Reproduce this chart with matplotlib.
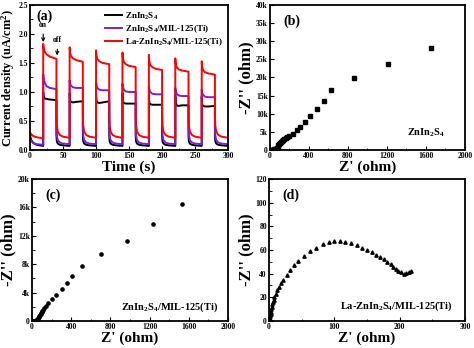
import matplotlib
matplotlib.use("Agg")
import matplotlib.pyplot as plt
import numpy as np

plt.rcParams['font.family'] = ['Liberation Serif', 'DejaVu Serif']
plt.rcParams['font.weight'] = 'bold'
plt.rcParams['mathtext.fontset'] = 'custom'
plt.rcParams['mathtext.rm'] = 'Liberation Serif:bold'
plt.rcParams['mathtext.bf'] = 'Liberation Serif:bold'
plt.rcParams['mathtext.it'] = 'Liberation Serif:bold'

# ---------------- panel (a) data ----------------
on_times = [20, 60, 100, 140, 180, 220, 260]
lead_t = [0, 2, 5, 10, 20]
light_off = [0, 0.6, 2, 5, 10, 20]
dark_off = [20, 20.6, 22, 25, 30, 40]

black_lead = [0.25, 0.17, 0.12, 0.09, 0.07]
black_light = [
    [1.00, 0.92, 0.89, 0.88, 0.87, 0.86],
    [0.98, 0.86, 0.83, 0.82, 0.83, 0.84],
    [0.97, 0.85, 0.82, 0.81, 0.82, 0.84],
    [0.98, 0.84, 0.81, 0.80, 0.80, 0.80],
    [0.95, 0.82, 0.79, 0.78, 0.78, 0.78],
    [0.94, 0.80, 0.77, 0.76, 0.77, 0.77],
    [0.92, 0.79, 0.76, 0.75, 0.75, 0.76],
]
black_dark = [0.25, 0.15, 0.11, 0.09, 0.08, 0.07]

purple_lead = [0.20, 0.15, 0.12, 0.10, 0.09]
purple_light = [
    [1.30, 1.24, 1.17, 1.10, 1.07, 1.05],
    [1.20, 1.15, 1.11, 1.08, 1.07, 1.07],
    [1.17, 1.12, 1.07, 1.04, 1.03, 1.03],
    [1.14, 1.09, 1.04, 1.01, 1.00, 1.00],
    [1.10, 1.05, 1.00, 0.97, 0.96, 0.96],
    [1.07, 1.02, 0.97, 0.94, 0.93, 0.93],
    [1.04, 0.99, 0.95, 0.92, 0.91, 0.91],
]
purple_dark = [0.40, 0.25, 0.17, 0.13, 0.11, 0.10]

red_lead = [0.30, 0.27, 0.24, 0.22, 0.20]
red_light = [
    [1.83, 1.76, 1.70, 1.65, 1.61, 1.57],
    [1.77, 1.68, 1.62, 1.58, 1.55, 1.52],
    [1.72, 1.63, 1.57, 1.53, 1.50, 1.48],
    [1.68, 1.58, 1.52, 1.48, 1.45, 1.43],
    [1.64, 1.53, 1.47, 1.43, 1.40, 1.38],
    [1.58, 1.49, 1.43, 1.39, 1.37, 1.35],
    [1.53, 1.44, 1.38, 1.34, 1.32, 1.30],
]
red_dark = [0.60, 0.42, 0.32, 0.26, 0.23, 0.21]

series_labels = [r'ZnIn$_{2}$S$_{4}$', r'ZnIn$_{2}$S$_{4}$/MIL-125(Ti)',
                 r'La-ZnIn$_{2}$S$_{4}$/MIL-125(Ti)']
series_colors = ['black', '#7a1fd6', '#ff0000']

# ---------------- panel (b) data ----------------
b_x = [5, 15, 25, 35, 45, 55, 62, 70, 78, 86, 94, 102, 110, 120, 132, 145, 160, 178,
       200, 240, 278, 310, 360, 410, 480, 555, 625, 865, 1210, 1650]
b_y = [0, 20, 50, 90, 150, 250, 400, 650, 950, 1250, 1550, 1850, 2150, 2450, 2750, 3000,
       3250, 3550, 3900, 4500, 5400, 6400, 7700, 9400, 11300, 13600, 16500, 19800, 23700, 28000]
b_xticks = [0, 400, 800, 1200, 1600, 2000]
b_yticks = [0, 5000, 10000, 15000, 20000, 25000, 30000, 35000, 40000]
b_yticklabels = ['0', '5k', '10k', '15k', '20k', '25k', '30k', '35k', '40k']

# ---------------- panel (c) data ----------------
c_x = [5, 15, 25, 35, 45, 52, 58, 64, 70, 76, 82, 88, 94, 100, 107, 115, 125, 140,
       165, 205, 250, 305, 360, 410, 510, 705, 965, 1230, 1530]
c_y = [0, 10, 30, 60, 100, 180, 280, 400, 540, 680, 820, 960, 1100, 1250, 1400, 1550,
       1800, 2100, 2500, 3100, 3700, 4500, 5400, 6400, 7700, 9400, 11300, 13600, 16500]
c_xticks = [0, 400, 800, 1200, 1600, 2000]
c_yticks = [0, 4000, 8000, 12000, 16000, 20000]
c_yticklabels = ['0', '4k', '8k', '12k', '16k', '20k']

# ---------------- panel (d) data ----------------
d_x = [1, 1.5, 2, 2.5, 3, 3.5, 4, 5, 6, 7, 8, 10, 12, 15, 18, 22, 27, 32, 38, 45, 53,
       62, 72, 82, 92, 100, 108, 117, 126, 134, 142, 150, 157, 164, 170, 176, 181, 186,
       190, 194, 198, 202, 206, 210, 214, 218]
d_y = [0, 2, 4, 6, 8, 10, 12, 14, 16, 18, 20, 23, 26, 29, 32, 35, 39, 43, 47, 51, 55,
       59, 62, 65, 67, 68, 68, 67, 66, 64, 62, 60, 58, 56, 54, 52, 50, 48, 46, 44, 42,
       41, 40, 40.5, 41.5, 42.5]
d_xticks = [0, 100, 200, 300]
d_yticks = [0, 20, 40, 60, 80, 100, 120]


def build(lead, light, dark):
    t = list(lead_t)
    y = list(lead)
    for T, lv in zip(on_times, light):
        t += [T + o for o in light_off]
        y += lv
        t += [T + o for o in dark_off]
        y += dark
    return t, y


fig = plt.figure(figsize=(4.74, 3.48), dpi=100)
ax_a = fig.add_axes([0.0633, 0.569, 0.418, 0.4167])
ax_b = fig.add_axes([0.5696, 0.569, 0.411, 0.4167])
ax_c = fig.add_axes([0.0675, 0.0776, 0.4135, 0.408])
ax_d = fig.add_axes([0.5675, 0.0776, 0.4135, 0.408])

tick_fs = 5.5
lab_fs = 11


def style(ax):
    for s in ax.spines.values():
        s.set_linewidth(1.3)
    ax.tick_params(direction='in', labelsize=tick_fs, width=0.8, length=3, pad=1.5)
    ax.tick_params(which='minor', direction='in', width=0.6, length=1.8)
    for lbl in ax.get_xticklabels() + ax.get_yticklabels():
        lbl.set_fontweight('bold')


# panel a
for (lead, light, dark), col, lab in zip(
        [(black_lead, black_light, black_dark),
         (purple_lead, purple_light, purple_dark),
         (red_lead, red_light, red_dark)], series_colors, series_labels):
    t, y = build(lead, light, dark)
    ax_a.plot(t, y, color=col, lw=1.4, label=lab)
ax_a.set_xlim(0, 300)
ax_a.set_ylim(0, 2.5)
ax_a.set_xticks([0, 50, 100, 150, 200, 250, 300])
ax_a.set_yticks([0.0, 0.5, 1.0, 1.5, 2.0, 2.5])
ax_a.set_yticklabels(['0.0', '0.5', '1.0', '1.5', '2.0', '2.5'])
ax_a.set_xticks([25, 75, 125, 175, 225, 275], minor=True)
ax_a.set_yticks([0.25, 0.75, 1.25, 1.75, 2.25], minor=True)
style(ax_a)
ax_a.set_xlabel('Time (s)', fontsize=lab_fs, fontweight='bold', labelpad=0)
ax_a.set_ylabel(r'Current density (uA/cm$^{2}$)', fontsize=9, fontweight='bold', labelpad=1)
ax_a.legend(loc='upper right', frameon=False, handlelength=1.9,
            handletextpad=0.3, labelspacing=0.15, borderaxespad=0.2,
            prop={'weight': 'bold', 'size': 6.5})
ax_a.text(0.075, 0.925, '(a)', transform=ax_a.transAxes, ha='center', va='center',
          fontsize=10, fontweight='bold')
ax_a.annotate('on', xy=(20, 1.86), xytext=(20, 2.15), ha='center', va='center',
              fontsize=5.5, fontweight='bold',
              arrowprops=dict(arrowstyle='->', lw=0.8, color='black', shrinkA=1.5, shrinkB=0))
ax_a.annotate('off', xy=(41, 1.63), xytext=(42, 1.89), ha='center', va='center',
              fontsize=5.5, fontweight='bold',
              arrowprops=dict(arrowstyle='->', lw=0.8, color='black', shrinkA=1.5, shrinkB=0))

# panel b
ax_b.plot(b_x, b_y, 's', color='black', ms=2.2)
ax_b.set_xlim(0, 2000)
ax_b.set_ylim(0, 40000)
ax_b.set_xticks(b_xticks)
ax_b.set_xticks([200, 600, 1000, 1400, 1800], minor=True)
ax_b.set_yticks(b_yticks)
ax_b.set_yticklabels(b_yticklabels)
style(ax_b)
ax_b.set_xlabel("Z' (ohm)", fontsize=lab_fs, fontweight='bold', labelpad=0)
ax_b.set_ylabel("-Z'' (ohm)", fontsize=lab_fs + 1, fontweight='bold', labelpad=1)
ax_b.text(0.07, 0.86, '(b)', transform=ax_b.transAxes, fontsize=10, fontweight='bold')
ax_b.text(0.80, 0.12, r'ZnIn$_{2}$S$_{4}$', transform=ax_b.transAxes, ha='center',
          va='center', fontsize=7.5, fontweight='bold')

# panel c
ax_c.plot(c_x, c_y, 'o', color='black', ms=2.3)
ax_c.set_xlim(0, 2000)
ax_c.set_ylim(0, 20000)
ax_c.set_xticks(c_xticks)
ax_c.set_xticks([200, 600, 1000, 1400, 1800], minor=True)
ax_c.set_yticks(c_yticks)
ax_c.set_yticklabels(c_yticklabels)
ax_c.set_yticks([2000, 6000, 10000, 14000, 18000], minor=True)
style(ax_c)
ax_c.set_xlabel("Z' (ohm)", fontsize=lab_fs, fontweight='bold', labelpad=0)
ax_c.set_ylabel("-Z'' (ohm)", fontsize=lab_fs + 1, fontweight='bold', labelpad=1)
ax_c.text(0.07, 0.86, '(c)', transform=ax_c.transAxes, fontsize=10, fontweight='bold')
ax_c.text(0.70, 0.10, r'ZnIn$_{2}$S$_{4}$/MIL-125(Ti)', transform=ax_c.transAxes,
          ha='center', va='center', fontsize=7.5, fontweight='bold')

# panel d
ax_d.plot(d_x, d_y, '^', color='black', ms=2.4)
ax_d.set_xlim(0, 300)
ax_d.set_ylim(0, 120)
ax_d.set_xticks(d_xticks)
ax_d.set_xticks([50, 150, 250], minor=True)
ax_d.set_yticks(d_yticks)
ax_d.set_yticks([10, 30, 50, 70, 90, 110], minor=True)
style(ax_d)
ax_d.set_xlabel("Z' (ohm)", fontsize=lab_fs, fontweight='bold', labelpad=0)
ax_d.set_ylabel("-Z'' (ohm)", fontsize=lab_fs + 1, fontweight='bold', labelpad=1)
ax_d.text(0.07, 0.86, '(d)', transform=ax_d.transAxes, fontsize=10, fontweight='bold')
ax_d.text(0.65, 0.105, r'La-ZnIn$_{2}$S$_{4}$/MIL-125(Ti)', transform=ax_d.transAxes,
          ha='center', va='center', fontsize=7.5, fontweight='bold')

fig.savefig('out.png', dpi=100)
